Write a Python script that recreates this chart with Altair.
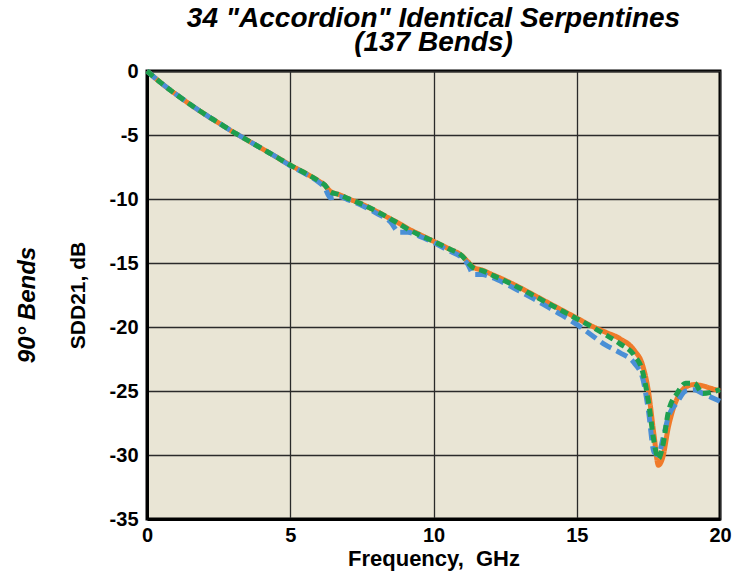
import altair as alt
import pandas as pd

# Frequency sweep (GHz) shared by the three traces
freq = [0, 0.5, 1, 1.5, 2, 2.5, 3, 3.5, 4, 4.5, 5, 5.5, 6, 6.2, 6.4, 6.7, 7, 7.5,
        8, 8.5, 8.8, 9.1, 9.5, 10, 10.5, 11, 11.2, 11.4, 11.7, 12, 12.5, 13, 13.5,
        14, 14.5, 15, 15.5, 16, 16.5, 17, 17.3, 17.5, 17.7, 17.85, 18, 18.2, 18.5,
        18.8, 19.1, 19.4, 19.7, 20]

# SDD21 (dB) for each trace
sdd21_orange = [0, -0.95, -1.8, -2.6, -3.35, -4.05, -4.75, -5.4, -6.05, -6.7, -7.35,
                -7.95, -8.6, -8.9, -9.4, -9.65, -9.95, -10.4, -10.95, -11.55, -11.9,
                -12.3, -12.75, -13.3, -13.85, -14.45, -14.9, -15.35, -15.55, -15.85,
                -16.35, -16.9, -17.5, -18.1, -18.7, -19.3, -19.9, -20.4, -20.9, -21.8,
                -23.0, -25.0, -28.5, -30.8, -30.2, -27.8, -25.6, -24.7, -24.5, -24.6,
                -24.8, -25.0]
sdd21_blue = [0, -0.95, -1.8, -2.6, -3.35, -4.05, -4.75, -5.4, -6.05, -6.7, -7.4,
              -8.0, -8.7, -9.1, -9.9, -9.8, -10.05, -10.5, -11.1, -11.8, -12.6,
              -12.6, -12.9, -13.4, -14.0, -14.6, -15.1, -15.9, -15.9, -16.1,
              -16.6, -17.2, -17.8, -18.45, -19.1, -19.8, -20.6, -21.4, -22.0, -22.8,
              -24.0, -26.5, -29.8, -30.0, -28.8, -27.0, -25.9, -25.0, -24.9, -25.2,
              -25.5, -25.8]
sdd21_green = [0, -0.95, -1.8, -2.6, -3.35, -4.05, -4.75, -5.4, -6.05, -6.7, -7.35,
               -7.95, -8.6, -8.9, -9.45, -9.65, -9.95, -10.4, -10.95, -11.55, -11.95,
               -12.35, -12.8, -13.3, -13.85, -14.45, -14.95, -15.4, -15.6, -15.9,
               -16.4, -16.95, -17.55, -18.15, -18.75, -19.35, -19.95, -20.6, -21.3, -22.2,
               -23.5, -25.8, -29.0, -30.3, -29.3, -26.6, -25.2, -24.4, -24.4, -25.2,
               -25.1, -24.9]

series = ["orange", "blue", "green"]
colors = ["#F07A2A", "#4A8FD6", "#1E9F4E"]
dashes = [[1, 0], [12, 6], [8, 5]]

rows = []
for k, (name, vals) in enumerate(zip(series, [sdd21_orange, sdd21_blue, sdd21_green])):
    for f, v in zip(freq, vals):
        rows.append({"freq": f, "sdd21": v, "trace": name, "order": k})
df = pd.DataFrame(rows)

font = "Liberation Sans"
hyphen_minus = "replace(datum.label, '\u2212', '-')"

lines = alt.Chart(df).mark_line(strokeWidth=5, interpolate="monotone", strokeCap="butt").encode(
    x=alt.X("freq:Q", scale=alt.Scale(domain=[0, 20], nice=False),
            axis=alt.Axis(values=[0, 5, 10, 15, 20], title="Frequency,\u00a0 GHz",
                          titleFontSize=22, titlePadding=3, labelFontSize=20,
                          labelPadding=6, labelFlush=False)),
    y=alt.Y("sdd21:Q", scale=alt.Scale(domain=[-35, 0], nice=False),
            axis=alt.Axis(values=[0, -5, -10, -15, -20, -25, -30, -35],
                          labelExpr=hyphen_minus,
                          title="SDD21, dB", titleFontSize=21, titleX=-69, titleY=224,
                          titleAngle=270, titleAlign="center", titleBaseline="middle",
                          labelFontSize=20, labelPadding=9)),
    color=alt.Color("trace:N", scale=alt.Scale(domain=series, range=colors), legend=None),
    strokeDash=alt.StrokeDash("trace:N", scale=alt.Scale(domain=series, range=dashes), legend=None),
    detail="trace:N",
    order="order:Q",
)

side_label = alt.Chart(pd.DataFrame({"t": ["90° Bends"]})).mark_text(
    angle=270, font=font, fontSize=24, fontWeight="bold", fontStyle="italic",
    align="center", baseline="middle", color="black"
).encode(x=alt.value(-119), y=alt.value(234), text="t:N")

chart = alt.layer(lines, side_label).properties(
    width=573, height=448,
    background="white",
    autosize=alt.AutoSizeParams(type="none"),
    padding={"left": 147, "top": 71, "right": 13, "bottom": 60},
    title=alt.TitleParams(["34 \"Accordion\" Identical Serpentines", "(137 Bends)"],
                          font=font, fontSize=28, fontWeight="bold", fontStyle="italic",
                          lineHeight=24, anchor="middle", offset=4, color="black"),
).configure_view(
    fill="#E9E5D5", stroke="black", strokeWidth=3
).configure_axis(
    labelFont=font, titleFont=font, labelFontWeight="bold", titleFontWeight="bold",
    labelColor="black", titleColor="black", domainColor="black", domainWidth=3,
    gridColor="#2A2A2A", gridWidth=1.3, gridOpacity=1, ticks=False,
)

chart.save("out.html", embed_options={"renderer": "svg", "actions": False})
